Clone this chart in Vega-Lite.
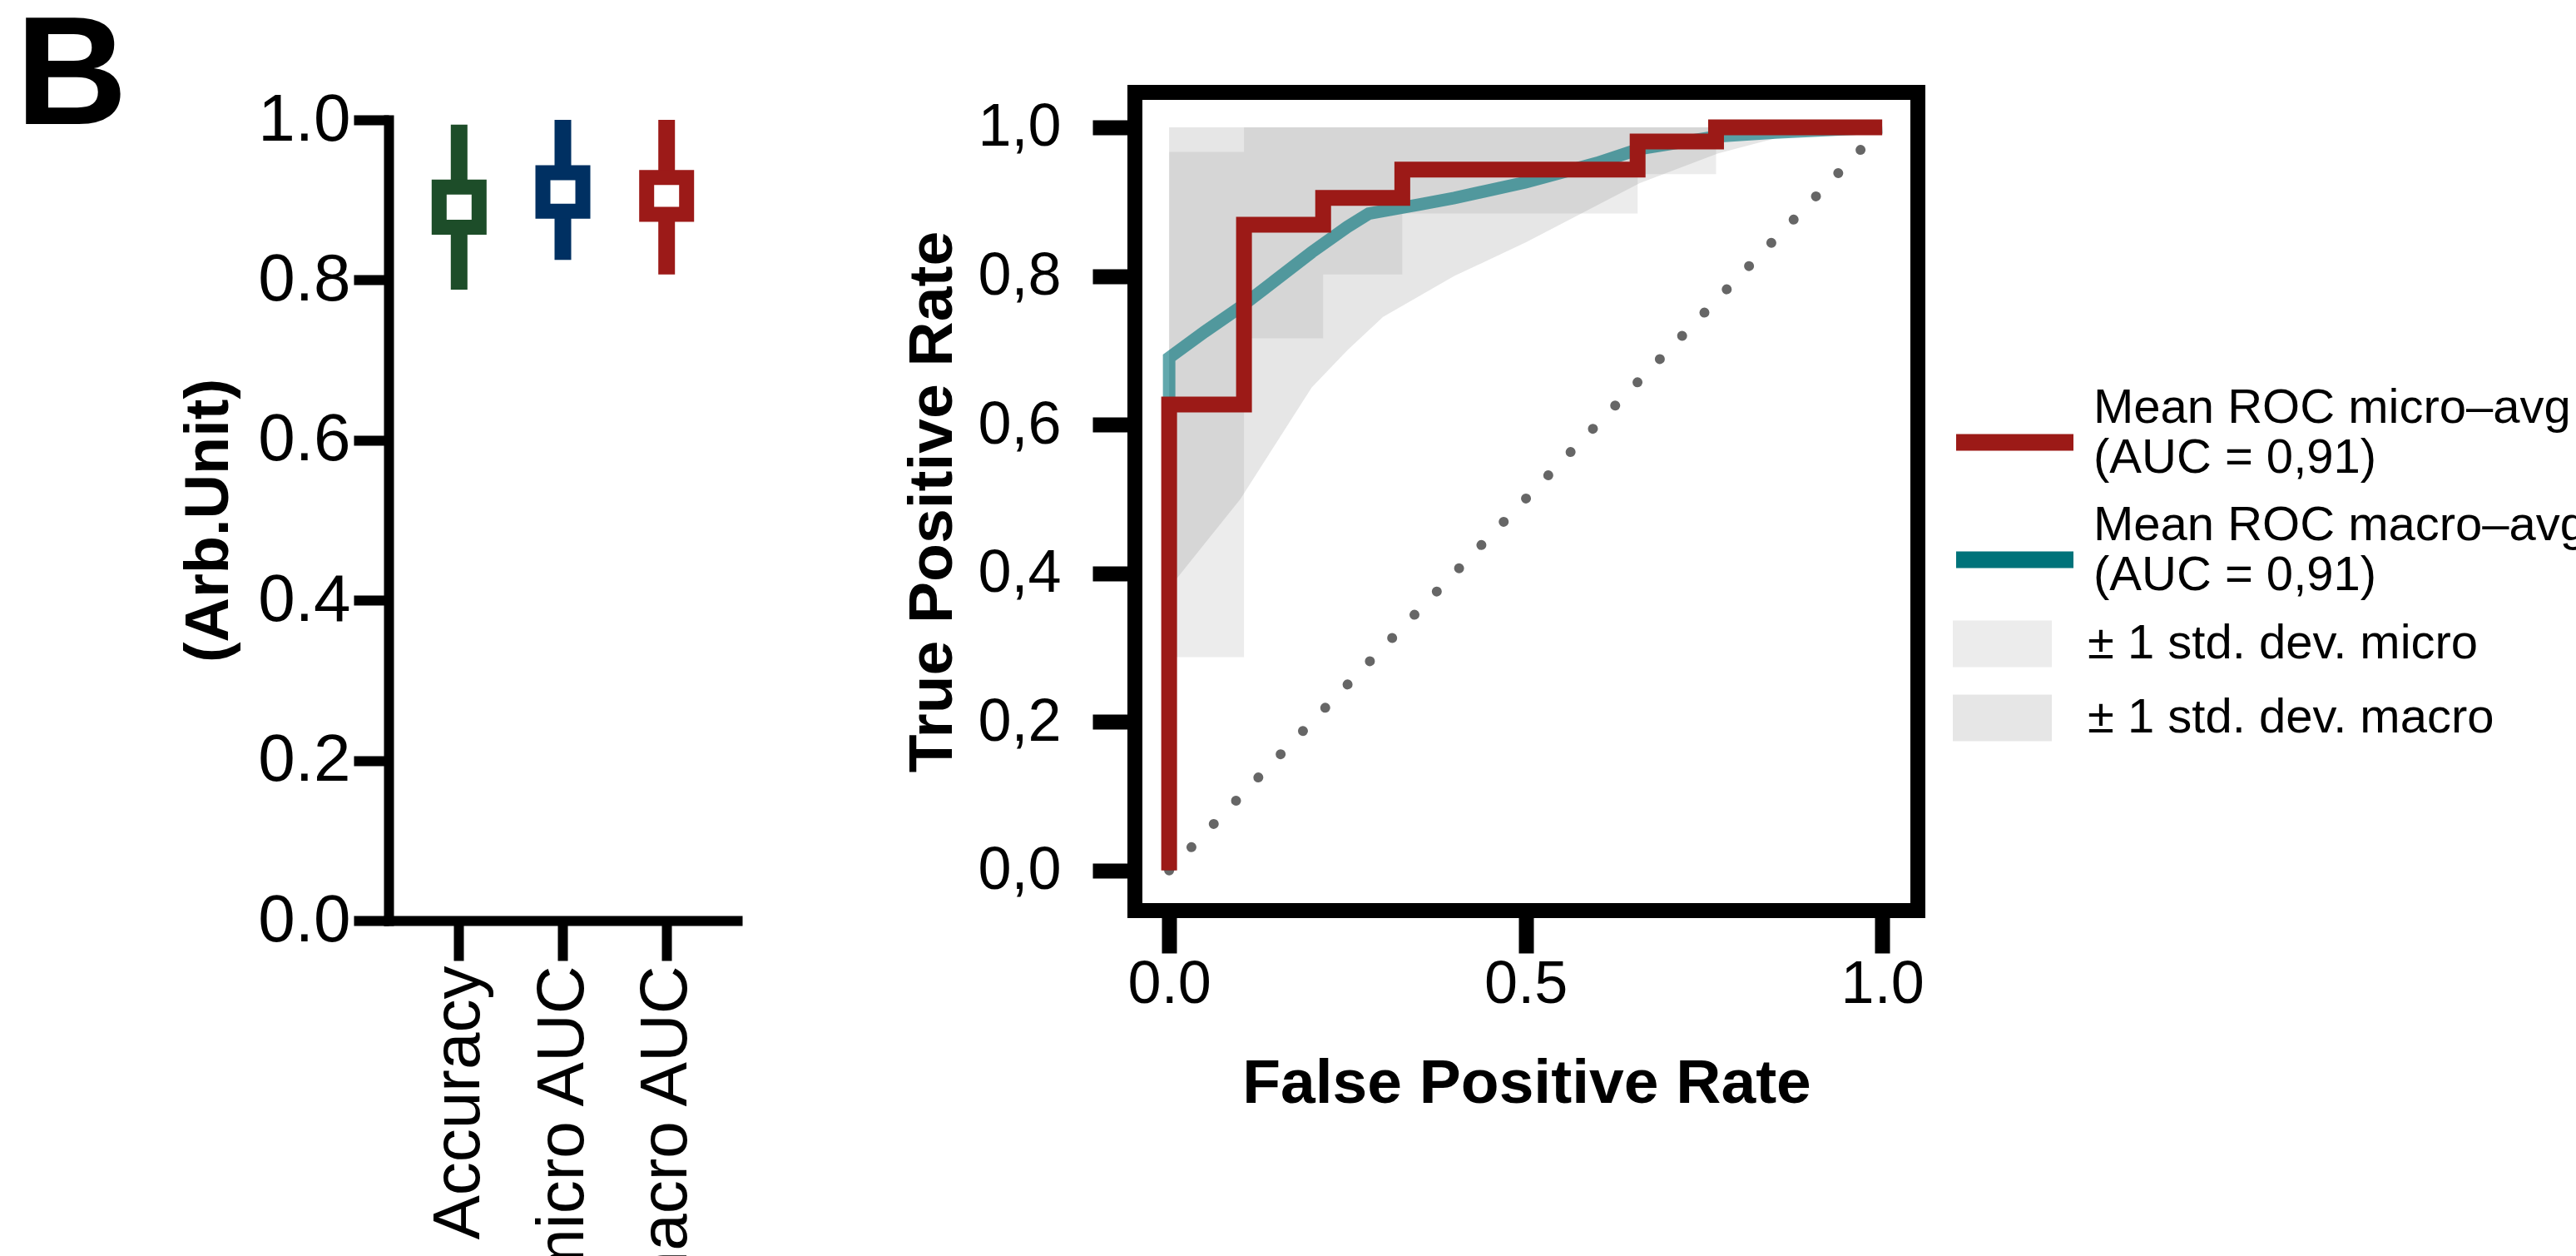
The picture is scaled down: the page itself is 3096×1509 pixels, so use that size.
{
  "$schema": "https://vega.github.io/schema/vega-lite/v6.json",
  "background": "white",
  "padding": {"left": 18, "top": 0, "right": 0, "bottom": 0},
  "title": {
    "text": "B",
    "anchor": "start",
    "frame": "bounds",
    "font": "Liberation Sans",
    "fontSize": 186,
    "fontWeight": "bold",
    "color": "black",
    "offset": -86,
    "dx": -196
  },
  "spacing": 188,
  "resolve": {"scale": {"stroke": "independent", "fill": "independent"}},
  "config": {
    "view": {"stroke": null},
    "font": "Liberation Sans",
    "axis": {
      "grid": false,
      "domainColor": "black",
      "tickColor": "black",
      "labelColor": "black",
      "titleColor": "black",
      "labelFont": "Liberation Sans",
      "titleFont": "Liberation Sans",
      "labelLimit": 1000
    },
    "legend": {
      "labelFont": "Liberation Sans",
      "labelColor": "black",
      "labelLimit": 1000,
      "padding": 0,
      "symbolOpacity": 1
    }
  },
  "hconcat": [
    {
      "width": 419,
      "height": 995,
      "data": {
        "values": [
          {"metric": "Accuracy", "min": 0.788, "q1": 0.866, "q3": 0.916, "max": 0.994},
          {"metric": "micro AUC", "min": 0.825, "q1": 0.886, "q3": 0.934, "max": 1.0},
          {"metric": "macro AUC", "min": 0.807, "q1": 0.882, "q3": 0.928, "max": 1.0}
        ]
      },
      "encoding": {
        "x": {
          "field": "metric",
          "type": "nominal",
          "sort": null,
          "scale": {"paddingInner": 0.5, "paddingOuter": 0.43},
          "axis": {
            "title": null,
            "labelAngle": -90,
            "labelFontSize": 80,
            "labelPadding": 6,
            "tickSize": 48,
            "tickWidth": 12,
            "domainWidth": 12,
            "domainCap": "square"
          }
        },
        "stroke": {
          "field": "metric",
          "type": "nominal",
          "scale": {
            "domain": ["Accuracy", "micro AUC", "macro AUC"],
            "range": ["#1d4d29", "#003062", "#9c1a18"]
          },
          "legend": null
        }
      },
      "layer": [
        {
          "mark": {"type": "rule", "strokeWidth": 20, "strokeCap": "butt"},
          "encoding": {
            "y": {
              "field": "min",
              "type": "quantitative",
              "scale": {"domain": [0, 1], "nice": false, "range": [995, 33]},
              "axis": {
                "title": "(Arb.Unit)",
                "values": [0, 0.2, 0.4, 0.6, 0.8, 1.0],
                "format": ".1f",
                "tickSize": 42,
                "tickWidth": 12,
                "domainWidth": 12,
                "domainCap": "square",
                "labelFontSize": 80,
                "labelPadding": 4,
                "titleFontSize": 74,
                "titleFontWeight": "bold",
                "titlePadding": 20
              }
            },
            "y2": {"field": "max"}
          }
        },
        {
          "mark": {"type": "bar", "fill": "white", "strokeWidth": 18, "size": 48},
          "encoding": {
            "y": {"field": "q1", "type": "quantitative"},
            "y2": {"field": "q3"}
          }
        }
      ]
    },
    {
      "width": 941,
      "height": 983,
      "view": {"stroke": "black", "strokeWidth": 18},
      "encoding": {
        "x": {
          "field": "fpr",
          "type": "quantitative",
          "scale": {"domain": [-0.048, 1.05], "nice": false, "zero": false},
          "axis": {
            "title": "False Positive Rate",
            "values": [0, 0.5, 1],
            "format": ".1f",
            "domain": false,
            "tickSize": 51,
            "tickWidth": 18,
            "labelFontSize": 72,
            "labelPadding": 2,
            "titleFontSize": 75,
            "titleFontWeight": "bold",
            "titlePadding": 47
          }
        }
      },
      "layer": [
        {
          "data": {
            "values": [
              {"fpr": 0, "lo": 0.287, "hi": 0.967},
              {"fpr": 0.105, "lo": 0.716, "hi": 1},
              {"fpr": 0.216, "lo": 0.802, "hi": 1},
              {"fpr": 0.327, "lo": 0.884, "hi": 1},
              {"fpr": 0.657, "lo": 0.937, "hi": 1},
              {"fpr": 0.767, "lo": 0.99, "hi": 1},
              {"fpr": 1, "lo": 0.99, "hi": 1}
            ]
          },
          "mark": {"type": "area", "interpolate": "step-after"},
          "encoding": {
            "y": {
              "field": "lo",
              "type": "quantitative",
              "scale": {"domain": [-0.054, 1.047], "nice": false, "zero": false},
              "axis": {
                "title": "True Positive Rate",
                "values": [0, 0.2, 0.4, 0.6, 0.8, 1.0],
                "labelExpr": "replace(format(datum.value, '.1f'), '.', ',')",
                "domain": false,
                "tickSize": 51,
                "tickWidth": 18,
                "labelFontSize": 72,
                "labelPadding": 38,
                "titleFontSize": 75,
                "titleFontWeight": "bold",
                "titlePadding": 15
              }
            },
            "y2": {"field": "hi"},
            "fill": {
              "datum": "± 1 std. dev. micro",
              "type": "nominal",
              "scale": {
                "domain": ["± 1 std. dev. micro", "± 1 std. dev. macro"],
                "range": ["rgba(128,128,128,0.15)", "rgba(128,128,128,0.2)"]
              },
              "legend": {
                "title": null,
                "orient": "none",
                "legendX": 983,
                "legendY": 603,
                "symbolType": "M-1,-0.47H1V0.47H-1Z",
                "symbolSize": 14161,
                "symbolStrokeWidth": 0,
                "labelFontSize": 58,
                "labelOffset": 43,
                "rowPadding": -2
              }
            }
          }
        },
        {
          "data": {
            "values": [
              {"fpr": 0, "lo": 0.38, "hi": 1},
              {"fpr": 0.05, "lo": 0.44, "hi": 1},
              {"fpr": 0.1, "lo": 0.5, "hi": 1},
              {"fpr": 0.15, "lo": 0.575, "hi": 1},
              {"fpr": 0.2, "lo": 0.65, "hi": 1},
              {"fpr": 0.25, "lo": 0.7, "hi": 1},
              {"fpr": 0.3, "lo": 0.745, "hi": 1},
              {"fpr": 0.4, "lo": 0.8, "hi": 1},
              {"fpr": 0.5, "lo": 0.845, "hi": 1},
              {"fpr": 0.55, "lo": 0.87, "hi": 1},
              {"fpr": 0.66, "lo": 0.925, "hi": 1},
              {"fpr": 0.77, "lo": 0.965, "hi": 1},
              {"fpr": 0.85, "lo": 0.985, "hi": 1},
              {"fpr": 1, "lo": 1, "hi": 1}
            ]
          },
          "mark": {"type": "area"},
          "encoding": {
            "y": {"field": "lo", "type": "quantitative"},
            "y2": {"field": "hi"},
            "fill": {"datum": "± 1 std. dev. macro", "type": "nominal"}
          }
        },
        {
          "data": {
            "values": [
              {"fpr": 0, "tpr": 0},
              {"fpr": 1, "tpr": 1}
            ]
          },
          "mark": {
            "type": "line",
            "color": "#666666",
            "strokeWidth": 12,
            "strokeCap": "round",
            "strokeDash": [0.01, 38.7]
          },
          "encoding": {
            "y": {"field": "tpr", "type": "quantitative"}
          }
        },
        {
          "data": {
            "values": [
              {"fpr": 0, "tpr": 0},
              {"fpr": 0, "tpr": 0.69},
              {"fpr": 0.05, "tpr": 0.725},
              {"fpr": 0.1, "tpr": 0.758},
              {"fpr": 0.15, "tpr": 0.795},
              {"fpr": 0.2, "tpr": 0.832},
              {"fpr": 0.25, "tpr": 0.866},
              {"fpr": 0.28, "tpr": 0.884},
              {"fpr": 0.35, "tpr": 0.896},
              {"fpr": 0.4, "tpr": 0.905},
              {"fpr": 0.5, "tpr": 0.926},
              {"fpr": 0.6, "tpr": 0.952},
              {"fpr": 0.66, "tpr": 0.971},
              {"fpr": 0.77, "tpr": 0.988},
              {"fpr": 0.85, "tpr": 0.993},
              {"fpr": 1, "tpr": 1}
            ]
          },
          "mark": {"type": "line", "strokeWidth": 15, "opacity": 0.62},
          "encoding": {
            "y": {"field": "tpr", "type": "quantitative"},
            "stroke": {
              "datum": "Mean ROC macro–avg\n(AUC = 0,91)",
              "type": "nominal",
              "scale": {
                "domain": ["Mean ROC micro–avg\n(AUC = 0,91)", "Mean ROC macro–avg\n(AUC = 0,91)"],
                "range": ["#9c1a17", "#00737a"]
              },
              "legend": {
                "title": null,
                "orient": "none",
                "legendX": 977,
                "legendY": 328,
                "symbolType": "M-1,0.17H1",
                "symbolSize": 19881,
                "symbolStrokeWidth": 20,
                "labelFontSize": 58,
                "labelOffset": 14,
                "labelBaseline": "bottom",
                "rowPadding": -19,
                "labelExpr": "split(datum.label, '\\n')"
              }
            }
          }
        },
        {
          "data": {
            "values": [
              {"fpr": 0, "tpr": 0},
              {"fpr": 0, "tpr": 0.627},
              {"fpr": 0.105, "tpr": 0.869},
              {"fpr": 0.216, "tpr": 0.905},
              {"fpr": 0.327, "tpr": 0.943},
              {"fpr": 0.657, "tpr": 0.981},
              {"fpr": 0.767, "tpr": 1.0},
              {"fpr": 1, "tpr": 1.0}
            ]
          },
          "mark": {"type": "line", "strokeWidth": 19, "interpolate": "step-after"},
          "encoding": {
            "y": {"field": "tpr", "type": "quantitative"},
            "stroke": {"datum": "Mean ROC micro–avg\n(AUC = 0,91)", "type": "nominal"}
          }
        }
      ]
    }
  ]
}
